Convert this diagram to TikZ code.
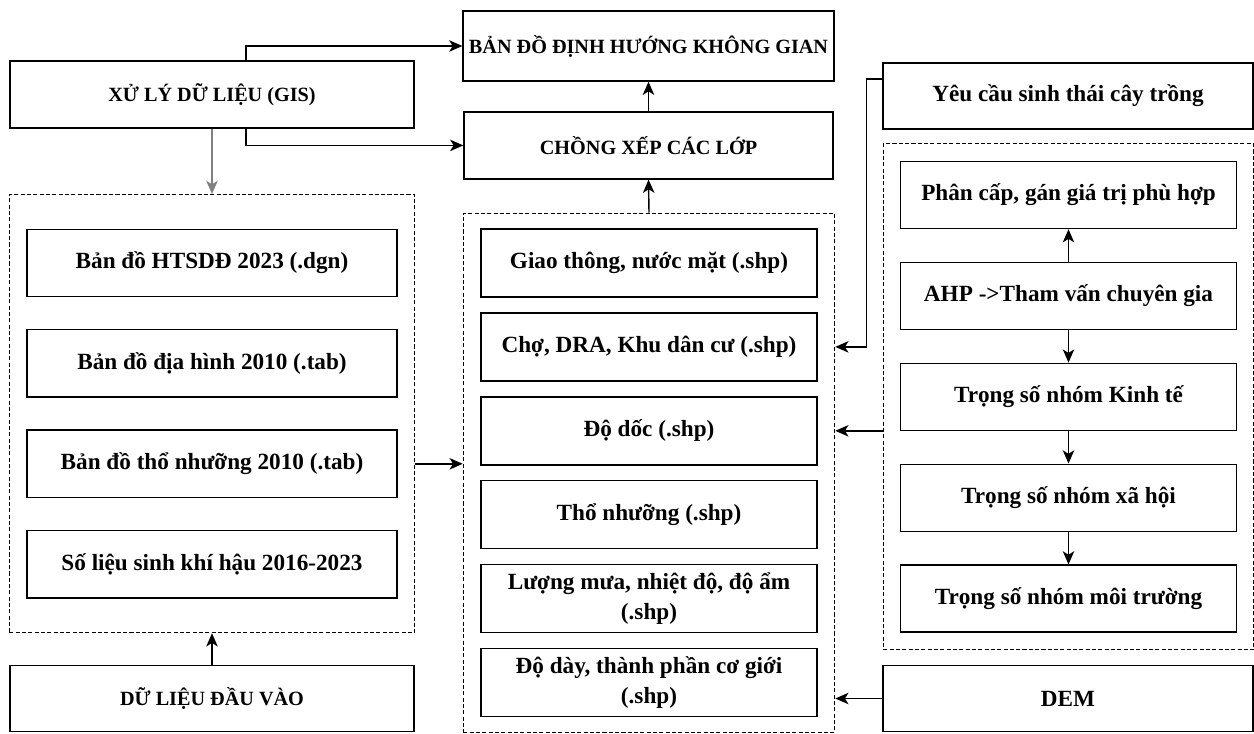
\documentclass[tikz,border=0pt]{standalone}
\usepackage{fontspec}
\setmainfont{Liberation Serif}
\usepackage{tikz}
\usetikzlibrary{positioning, arrows.meta, calc, fit}

\begin{document}
\begin{tikzpicture}[
	node distance=0.63cm,
	% --- STYLES ---
	box/.style={
		rectangle, draw, line width=0.8pt, fill=white,
		minimum width=7.4cm, minimum height=1.35cm, align=center, font=\bfseries\fontsize{13.2}{17}\selectfont
	},
	capbox/.style={
		box, font=\bfseries\fontsize{11.5}{14}\selectfont
	},
	layer/.style={
		box, minimum width=6.72cm, minimum height=1.36cm
	},
	group/.style={
		rectangle, draw, dash pattern=on 2.3pt off 1.3pt, line width=0.65pt, inner xsep=0.34cm, inner ysep=0.34cm
	},
	line/.style={
		draw, -{Stealth[length=7.5pt,width=6.5pt,inset=2pt]}, line width=0.8pt, color=black
	}
	]
	\useasboundingbox (0,0) rectangle (25.08,-14.66);
	
	% --- 1. Left column: input data ---
	\node [capbox, minimum width=8.08cm, minimum height=1.34cm] (gis_proc) at (4.24,-1.89) {XỬ LÝ DỮ LIỆU (GIS)};
	
	\node [box] (map_hts) at (4.24,-5.26) {Bản đồ HTSDĐ 2023 (.dgn)};
	\node [box, below=of map_hts] (map_dh) {Bản đồ địa hình 2010 (.tab)};
	\node [box, below=of map_dh] (map_tn) {Bản đồ thổ nhưỡng 2010 (.tab)};
	\node [box, below=of map_tn] (climate) {Số liệu sinh khí hậu 2016-2023};
	\node [group, inner ysep=0.68cm, fit=(map_hts)(climate)] (grp_left) {};
	
	\node [capbox, minimum width=8.08cm, minimum height=1.32cm] (in_data) at (4.24,-13.97) {DỮ LIỆU ĐẦU VÀO};
	
	% --- 2. Middle column: layers and output ---
	\node [capbox, minimum width=7.38cm, minimum height=1.4cm] (out_map) at (12.97,-0.92) {BẢN ĐỒ ĐỊNH HƯỚNG KHÔNG GIAN};
	\node [capbox, minimum width=7.38cm, minimum height=1.34cm, below=0.59cm of out_map] (overlay) {CHỒNG XẾP CÁC LỚP};
	
	\node [layer] (lyr_gt) at (12.98,-5.26) {Giao thông, nước mặt (.shp)};
	\node [layer, below=0.29cm of lyr_gt] (lyr_cho) {Chợ, DRA, Khu dân cư (.shp)};
	\node [layer, below=0.29cm of lyr_cho] (lyr_dd) {Độ dốc (.shp)};
	\node [layer, below=0.29cm of lyr_dd] (lyr_tn) {Thổ nhưỡng (.shp)};
	\node [layer, below=0.29cm of lyr_tn] (lyr_mua) {Lượng mưa, nhiệt độ, độ ẩm\\(.shp)};
	\node [layer, below=0.29cm of lyr_mua] (lyr_day) {Độ dày, thành phần cơ giới\\(.shp)};
	\node [group, inner ysep=0.3cm, fit=(lyr_gt)(lyr_day)] (grp_mid) {};
	
	% --- 3. Right column: weights ---
	\node [box, minimum height=1.32cm] (req_eco) at (21.36,-1.92) {Yêu cầu sinh thái cây trồng};
	
	\node [layer, minimum height=1.34cm] (w_rank) at (21.37,-3.9) {Phân cấp, gán giá trị phù hợp};
	\node [layer, minimum height=1.34cm, below=0.65cm of w_rank] (w_ahp) {AHP ->Tham vấn chuyên gia};
	\node [layer, minimum height=1.34cm, below=0.65cm of w_ahp] (w_kt) {Trọng số nhóm Kinh tế};
	\node [layer, minimum height=1.34cm, below=0.65cm of w_kt] (w_xh) {Trọng số nhóm xã hội};
	\node [layer, minimum height=1.34cm, below=0.65cm of w_xh] (w_mt) {Trọng số nhóm môi trường};
	\node [group, inner xsep=0.33cm, fit=(w_rank)(w_mt)] (grp_right) {};
	
	\node [box, minimum height=1.32cm] (dem) at (21.36,-13.97) {DEM};
	
	% --- 4. Connections ---
	% GIS processing goes up to the overlay and the final map
	\coordinate (gis_top) at ($(gis_proc.north west)!0.584!(gis_proc.north east)$);
	\coordinate (gis_bot) at ($(gis_proc.south west)!0.584!(gis_proc.south east)$);
	\draw [line] (gis_top) |- (out_map.west);
	\draw [line] (gis_bot) |- (overlay.west);
	\draw [line, color=gray] (gis_proc.south) -- (grp_left.north);
	\draw [line] (in_data.north) -- (grp_left.south);
	\draw [line] (map_tn.east -| grp_left.east) -- (map_tn.east -| grp_mid.west);
	
	% Layers -> overlay -> map
	\draw [line] (grp_mid.north) -- (overlay.south);
	\draw [line] (overlay.north) -- (out_map.south);
	
	% Right side inputs
	\coordinate (req_out) at ($(req_eco.north west)!0.25!(req_eco.south west)$);
	\coordinate (req_bend) at ($(req_out) + (-0.32,0)$);
	\draw [line] (req_out) -- (req_bend) |- (lyr_cho.east -| grp_mid.east);
	\draw [line] (lyr_dd.east -| grp_right.west) -- (lyr_dd.east -| grp_mid.east);
	\draw [line] (dem.west) -- (dem.west -| grp_mid.east);
	
	% AHP chain
	\draw [line] (w_ahp) -- (w_rank);
	\foreach \a/\b in {w_ahp/w_kt, w_kt/w_xh, w_xh/w_mt}
		\draw [line] (\a) -- (\b);
	
\end{tikzpicture}
\end{document}
